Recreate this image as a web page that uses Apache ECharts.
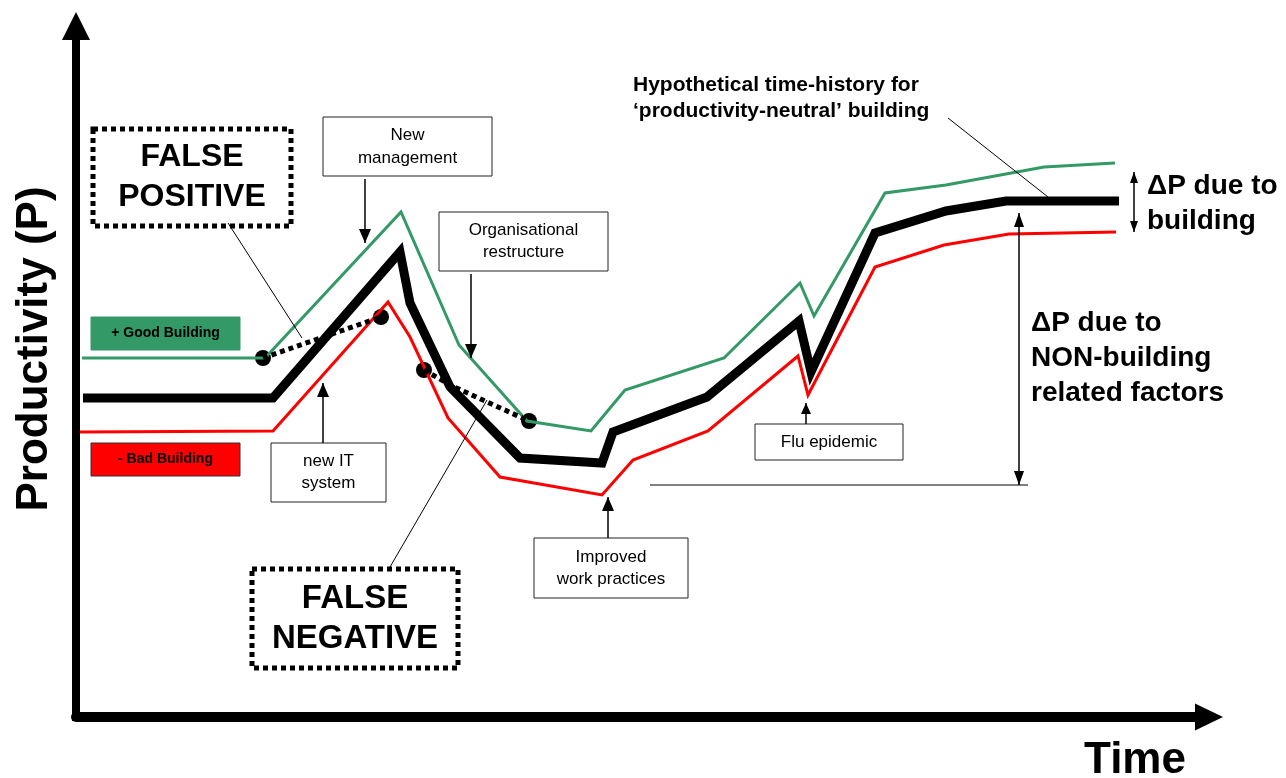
<!DOCTYPE html>
<html>
<head>
<meta charset="utf-8">
<script src="https://cdn.jsdelivr.net/npm/echarts@6/dist/echarts.min.js"></script>
<style>
  html, body { margin: 0; padding: 0; background: #fff; }
  #chart-container { width: 1286px; height: 778px; }
</style>
</head>
<body>
<div id="chart-container"></div>
<script>
// time / productivity pairs (arbitrary units)
var goodBuilding = [[6,359],[189,359],[325,505],[383,372],[451,296],[515,286],[549,327],[648,359],[724,434],[738,401],[809,524],[870,532],[968,550],[1039,554]];
var neutralBuilding = [[7,319],[197,319],[324,465],[334,414],[374,330],[444,259],[526,254],[537,285],[631,320],[723,396],[735,345],[799,484],[870,506],[930,516],[1043,516]];
var badBuilding = [[4,285],[197,286],[312,415],[334,380],[372,299],[424,240],[526,222],[557,257],[632,286],[722,361],[732,322],[799,450],[868,472],[933,483],[1040,485]];
var falsePositive = [[187,359],[305,400]];
var falseNegative = [[348,347],[376,331],[453,296]];
var markers = [falsePositive[0], falsePositive[1], falseNegative[0], falseNegative[2]];

var dom = document.getElementById('chart-container');
var myChart = echarts.init(dom, null, { renderer: 'canvas' });

var FONT = '"Liberation Sans", Arial, sans-serif';
var GREEN = '#339966';

function boxText(x, y, w, h, text, font, lh, fill, stroke, lw, dash) {
  return [
    {
      type: 'rect', z: 100,
      shape: { x: x, y: y, width: w, height: h },
      style: { fill: fill, stroke: stroke, lineWidth: lw, lineDash: dash || null }
    },
    {
      type: 'text', z: 101,
      style: {
        text: text, x: x + w / 2, y: y + h / 2, font: font, lineHeight: lh,
        align: 'center', verticalAlign: 'middle', fill: '#000'
      }
    }
  ];
}

function plainText(x, y, text, font, lh, align, rotation) {
  return {
    type: 'text', z: 101, x: x, y: y, rotation: rotation || 0,
    style: { text: text, x: 0, y: 0, font: font, lineHeight: lh, align: align, verticalAlign: 'middle', fill: '#000' }
  };
}

function seg(x1, y1, x2, y2, w) {
  return {
    type: 'line', z: 100,
    shape: { x1: x1, y1: y1, x2: x2, y2: y2 },
    style: { stroke: '#000', lineWidth: w || 1 }
  };
}

function head(x, y, fx, fy, len, half) {
  // tip at (x,y), coming from direction of (fx,fy)
  var dx = x - fx, dy = y - fy;
  var d = Math.sqrt(dx * dx + dy * dy);
  dx /= d; dy /= d;
  var bx = x - dx * len, by = y - dy * len;
  return {
    type: 'polygon', z: 100,
    shape: { points: [[x, y], [bx - dy * half, by + dx * half], [bx + dy * half, by - dx * half]] },
    style: { fill: '#000' }
  };
}

function arrow(x1, y1, x2, y2, len, half, both) {
  var out = [seg(x1, y1, x2, y2, 1.5), head(x2, y2, x1, y1, len, half)];
  if (both) out.push(head(x1, y1, x2, y2, len, half));
  return out;
}

var graphics = [].concat(
  boxText(93, 129, 198, 97, 'FALSE\nPOSITIVE', 'bold 32px ' + FONT, 40, '#fff', '#000', 5, [5, 4]),
  boxText(252, 569, 206, 99, 'FALSE\nNEGATIVE', 'bold 33px ' + FONT, 40, '#fff', '#000', 5, [5, 4]),
  boxText(323, 117, 169, 59, 'New\nmanagement', '17px ' + FONT, 23, '#fff', '#222', 1),
  boxText(439, 212, 169, 59, 'Organisational\nrestructure', '17px ' + FONT, 22, '#fff', '#222', 1),
  boxText(271, 443, 115, 59, 'new IT\nsystem', '17px ' + FONT, 22, '#fff', '#222', 1),
  boxText(534, 538, 154, 60, 'Improved\nwork practices', '17px ' + FONT, 22, '#fff', '#222', 1),
  boxText(755, 424, 148, 36, 'Flu epidemic', '17px ' + FONT, 20, '#fff', '#222', 1),
  boxText(91, 317, 149, 33, '+ Good Building', 'bold 14px ' + FONT, 16, GREEN, GREEN, 1),
  boxText(91, 443, 149, 33, '- Bad Building', 'bold 14px ' + FONT, 16, '#ff0000', '#333', 1),
  [
    plainText(633, 98, 'Hypothetical time-history for\n\u2018productivity-neutral\u2019 building', 'bold 21px ' + FONT, 26, 'left'),
    plainText(1147, 204, '\u0394P due to\nbuilding', 'bold 28px ' + FONT, 35, 'left'),
    plainText(1031, 358, '\u0394P due to\nNON-building\nrelated factors', 'bold 28px ' + FONT, 35, 'left'),
    plainText(35, 349, 'Productivity (P)', 'bold 44px ' + FONT, 48, 'center', Math.PI / 2),
    plainText(1135, 761, 'Time', 'bold 44px ' + FONT, 48, 'center'),
    seg(228, 223, 302, 338),
    seg(390, 567, 487, 400),
    seg(948, 118, 1048, 197),
    seg(650, 485, 1028, 485)
  ],
  arrow(365, 179, 365, 243, 14, 6),
  arrow(471, 274, 471, 358, 14, 6),
  arrow(323, 443, 323, 383, 14, 6),
  arrow(608, 538, 608, 497, 14, 6),
  arrow(806, 424, 806, 403, 11, 5),
  arrow(1134, 172, 1134, 232, 11, 4, true),
  arrow(1019, 213, 1019, 485, 14, 5, true)
);

var option = {
  animation: false,
  backgroundColor: '#fff',
  grid: { left: 76, right: 77, top: 26, bottom: 61 },
  xAxis: {
    type: 'value', min: 0, max: 1133,
    axisLine: { show: true, symbol: ['none', 'triangle'], symbolSize: [27, 28], lineStyle: { color: '#000', width: 10 } },
    axisTick: { show: false }, axisLabel: { show: false }, splitLine: { show: false }
  },
  yAxis: {
    type: 'value', min: 0, max: 691,
    axisLine: { show: true, symbol: ['none', 'triangle'], symbolSize: [28, 28], lineStyle: { color: '#000', width: 8, cap: 'square' } },
    axisTick: { show: false }, axisLabel: { show: false }, splitLine: { show: false }
  },
  series: [
    {
      name: 'Good Building', type: 'line', data: goodBuilding, symbol: 'none',
      lineStyle: { color: GREEN, width: 3, join: 'miter' }
    },
    {
      name: 'Bad Building', type: 'line', data: badBuilding, symbol: 'none',
      lineStyle: { color: '#ff0000', width: 3, join: 'miter' }
    },
    {
      name: 'Productivity-neutral', type: 'line', data: neutralBuilding, symbol: 'none',
      lineStyle: { color: '#000', width: 9, join: 'miter' }
    },
    {
      name: 'False positive', type: 'line', data: falsePositive, symbol: 'none',
      lineStyle: { color: '#000', width: 5, type: [5, 4] }
    },
    {
      name: 'False negative', type: 'line', data: falseNegative, symbol: 'none',
      lineStyle: { color: '#000', width: 5, type: [5, 4] }
    },
    {
      name: 'Markers', type: 'scatter', data: markers, symbolSize: 16,
      itemStyle: { color: '#000', opacity: 1 }
    }
  ],
  graphic: graphics
};

myChart.setOption(option);
window.addEventListener('resize', myChart.resize);
</script>
</body>
</html>
